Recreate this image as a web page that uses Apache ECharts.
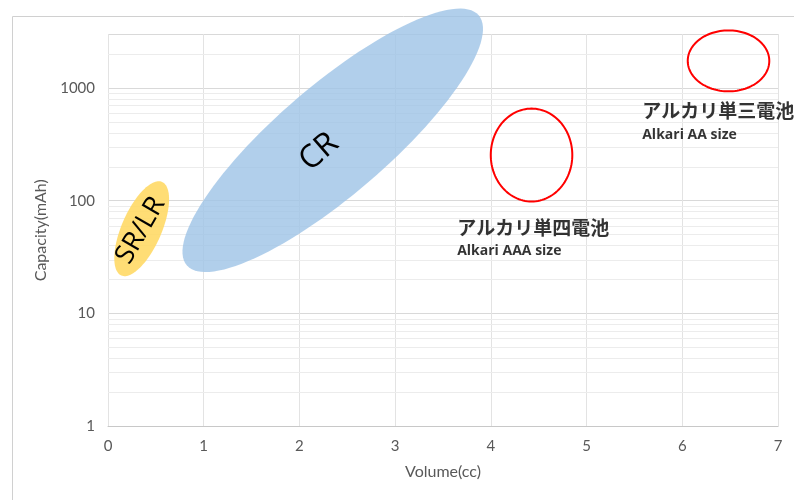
<!DOCTYPE html>
<head>
    <meta charset="utf-8"/>
    <style>
        html,body { height:100%; width:100%; margin:0; padding:0; background:#fff; }
    </style>
</head>
<body>
<div id="chart" style="width:794px;height:500px"></div>

<script src="https://cdn.jsdelivr.net/npm/echarts@6/dist/echarts.min.js"></script>
<script type="text/javascript">

 // ellipses: centre, end of first semi-axis, end of second semi-axis (data units)
 var ellipseNames = ['SR/LR', 'CR', 'AAA', 'AA'];
 var ellipseText  = ['SR/LR', 'CR', '', ''];
 var centreX = [0.352, 2.348, 4.425, 6.483];
 var centreY = [56.5, 343, 254, 1734];
 var axisAX  = [0.565, 3.873, 4.425, 6.909];
 var axisAY  = [146.7, 4389, 655, 1734];
 var axisBX  = [0.543, 2.722, 4.851, 6.483];
 var axisBY  = [48.0, 146.5, 254, 3226];

 // annotation texts
 var noteText = ['アルカリ単四電池', 'Alkari AAA size', 'アルカリ単三電池', 'Alkari AA size'];
 var noteX    = [3.643, 3.643, 5.576, 5.576];
 var noteY    = [57.1, 35.7, 632, 380];

 // axes
 var xTicks = [0, 1, 2, 3, 4, 5, 6, 7];
 var yMin = 1, yMax = 3000;
 var minorLines = [2,3,4,5,6,7,8,9, 20,30,40,50,60,70,80,90, 200,300,400,500,600,700,800,900, 2000];

 var ellipseStyle = {
     'SR/LR': { fill: 'rgba(255,217,102,0.9)', stroke: null, lineWidth: 0, fontSize: 27, shift: -2, rot: 60 },
     'CR':    { fill: 'rgba(157,195,230,0.8)', stroke: null, lineWidth: 0, fontSize: 32, shift: -18, rot: 41 },
     'AAA':   { fill: 'none', stroke: '#ff0000', lineWidth: 2, fontSize: 12, shift: 0, rot: 0 },
     'AA':    { fill: 'none', stroke: '#ff0000', lineWidth: 2, fontSize: 12, shift: 0, rot: 0 }
 };

 var ellipseData = [];
 for (var i = 0; i < ellipseNames.length; i++) {
     ellipseData.push([centreX[i], centreY[i], axisAX[i], axisAY[i], axisBX[i], axisBY[i]]);
 }
 var noteData = [];
 for (var j = 0; j < noteText.length; j++) {
     noteData.push({ name: noteText[j], value: [noteX[j], noteY[j]] });
 }

 function renderEllipse(params, api) {
     var idx = params.dataIndex;
     var c = api.coord([api.value(0), api.value(1)]);
     var p = api.coord([api.value(2), api.value(3)]);
     var q = api.coord([api.value(4), api.value(5)]);
     var dx = p[0] - c[0], dy = p[1] - c[1];
     var a = Math.sqrt(dx * dx + dy * dy);
     var ux = dx / a, uy = dy / a;
     var b = Math.abs(dx * (q[1] - c[1]) - dy * (q[0] - c[0])) / a;
     var st = ellipseStyle[ellipseNames[idx]];
     var pts = [];
     for (var k = 0; k < 120; k++) {
         var t = k / 120 * Math.PI * 2;
         var ca = a * Math.cos(t), sb = b * Math.sin(t);
         pts.push([c[0] + ca * ux - sb * uy, c[1] + ca * uy + sb * ux]);
     }
     var r = st.rot * Math.PI / 180;
     return {
         type: 'group',
         children: [{
             type: 'polygon',
             shape: { points: pts, smooth: 0 },
             style: { fill: st.fill, stroke: st.stroke, lineWidth: st.lineWidth }
         }, {
             type: 'text',
             x: c[0] + st.shift * Math.cos(r), y: c[1] - st.shift * Math.sin(r),
             rotation: r,
             style: {
                 text: ellipseText[idx], x: 0, y: 0,
                 align: 'center', verticalAlign: 'middle',
                 fontSize: st.fontSize, fontFamily: '"Open Sans"', fill: '#000'
             }
         }]
     };
 }

 var chart = echarts.init(document.getElementById('chart'));
 var option = {
     animation: false,
     graphic: [{
         type: 'rect', left: 10, top: 14, z: -10,
         shape: { width: 820, height: 520 },
         style: { fill: 'none', stroke: '#d0d0d0', lineWidth: 1 }
     }],
     grid: { left: 108, right: 16, top: 34, bottom: 73.5 },
     xAxis: {
         type: 'value', min: xTicks[0], max: xTicks[xTicks.length - 1], interval: 1,
         name: 'Volume(cc)', nameLocation: 'middle', nameGap: 37,
         nameTextStyle: { color: '#595959', fontSize: 16, fontFamily: 'Lato' },
         axisLine: { lineStyle: { color: '#c8c8c8' } },
         axisTick: { show: false },
         axisLabel: { color: '#595959', fontSize: 15, fontFamily: 'Lato', margin: 12 },
         splitLine: { lineStyle: { color: '#e3e3e3' } }
     },
     yAxis: {
         type: 'log', logBase: 10, min: yMin, max: yMax,
         name: 'Capacity(mAh)', nameLocation: 'middle', nameGap: 55,
         nameTextStyle: { color: '#595959', fontSize: 16, fontFamily: 'Lato' },
         axisLine: { show: false },
         axisTick: { show: false },
         axisLabel: {
             color: '#595959', fontSize: 15, fontFamily: 'Lato', margin: 13, showMaxLabel: false,
             formatter: function (v) { return String(Math.round(v)); }
         },
         splitLine: { lineStyle: { color: '#d9d9d9' } }
     },
     series: [{
         type: 'line', data: [], z: 1, silent: true,
         markLine: {
             z: 1, silent: true, symbol: 'none', animation: false,
             label: { show: false },
             lineStyle: { color: '#ececec', type: 'solid', width: 1 },
             data: minorLines.map(function (v) { return { yAxis: v }; })
         }
     }, {
         type: 'custom', z: 3, silent: true,
         renderItem: renderEllipse,
         encode: { x: [0, 2, 4], y: [1, 3, 5] },
         data: ellipseData
     }, {
         type: 'scatter', z: 4, symbolSize: 1, silent: true,
         itemStyle: { color: 'rgba(0,0,0,0)' },
         label: {
             show: true, position: 'right', distance: 0,
             formatter: '{b}', color: '#000', fontWeight: 'bold',
             fontFamily: '"Open Sans"',
             fontSize: 14
         },
         data: noteData.map(function (d) {
             if (/[\u3040-\u9fff]/.test(d.name)) {
                 d.label = { fontSize: 19, fontWeight: 'bold', fontFamily: '"Noto Sans CJK JP"' };
             } else {
                 d.label = { fontSize: 14, fontWeight: 'bold', fontFamily: '"Open Sans"' };
             }
             return d;
         })
     }]
 };
 chart.setOption(option);
</script>
</body>
